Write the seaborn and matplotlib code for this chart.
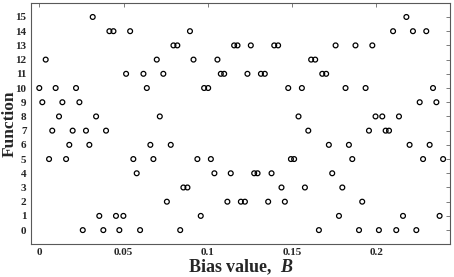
import matplotlib
matplotlib.use("Agg")
import matplotlib.pyplot as plt
import pandas as pd
import seaborn as sns

# Bias values at which each function index appears
f15 = [0.0317, 0.2178]
f14 = [0.0416, 0.0440, 0.0539, 0.0894, 0.2099, 0.2217, 0.2296]
f13 = [0.0796, 0.0819, 0.1156, 0.1176, 0.1255, 0.1394, 0.1417, 0.1758, 0.1876, 0.1976]
f12 = [0.0038, 0.0697, 0.0915, 0.1057, 0.1613, 0.1637]
f11 = [0.0515, 0.0618, 0.0736, 0.1077, 0.1097, 0.1235, 0.1315, 0.1338, 0.1679, 0.1702]
f10 = [0.0, 0.0097, 0.0218, 0.0638, 0.0978, 0.1002, 0.1477, 0.1558, 0.1817, 0.1936, 0.2336]
f9 = [0.0018, 0.0137, 0.0238, 0.2257, 0.2356]
f8 = [0.0117, 0.0337, 0.0715, 0.1538, 0.1995, 0.2035, 0.2134]
f7 = [0.0077, 0.0198, 0.0277, 0.0396, 0.1596, 0.1956, 0.2055, 0.2075]
f6 = [0.0178, 0.0297, 0.0659, 0.0780, 0.1718, 0.1837, 0.2197, 0.2316]
f5 = [0.0058, 0.0159, 0.0558, 0.0677, 0.0938, 0.1018, 0.1493, 0.1512, 0.1857, 0.2277, 0.2396]
f4 = [0.0578, 0.1039, 0.1136, 0.1275, 0.1295, 0.1378, 0.1738]
f3 = [0.0855, 0.0879, 0.1437, 0.1576, 0.1798]
f2 = [0.0757, 0.1116, 0.1196, 0.1220, 0.1358, 0.1457, 0.1916]
f1 = [0.0356, 0.0455, 0.0499, 0.0958, 0.1778, 0.2158, 0.2375]
f0 = [0.0258, 0.0380, 0.0475, 0.0598, 0.0836, 0.1659, 0.1897, 0.2015, 0.2118, 0.2237]

rows = [f0, f1, f2, f3, f4, f5, f6, f7, f8, f9, f10, f11, f12, f13, f14, f15]

x_ticks = [0, 0.05, 0.1, 0.15, 0.2]
x_tick_labels = ["0", "0.05", "0.1", "0.15", "0.2"]
y_ticks = list(range(16))

# long-format table: one row per point
records = []
for func, biases in enumerate(rows):
    for b in biases:
        records.append({"bias": b, "function": func})
df = pd.DataFrame(records)

sns.set_theme(style="white")
plt.rcParams["font.family"] = ["Liberation Serif", "DejaVu Serif"]
plt.rcParams["font.weight"] = "bold"
plt.rcParams["mathtext.fontset"] = "custom"
plt.rcParams["mathtext.rm"] = "Liberation Serif:bold"
plt.rcParams["mathtext.it"] = "Liberation Serif:italic:bold"
plt.rcParams["mathtext.bf"] = "Liberation Serif:bold"

fig = plt.figure(figsize=(4.54, 2.77), dpi=100)
ax = fig.add_axes([0.0676, 0.118, 0.9244, 0.872])

sns.scatterplot(data=df, x="bias", y="function", ax=ax,
                marker="o", s=12, facecolor="none", edgecolor="black",
                linewidth=0.9, legend=False)

ax.set_xlim(-0.0051, 0.2439)
ax.set_ylim(-1, 16)
ax.set_xticks(x_ticks)
ax.set_xticklabels(x_tick_labels)
ax.set_yticks(y_ticks)
ax.set_yticklabels([str(t) for t in y_ticks])

ax.tick_params(direction="in", length=3, width=0.6, color="0.4",
               top=True, right=True, labelsize=8, pad=3)
for lab in ax.get_xticklabels() + ax.get_yticklabels():
    lab.set_fontweight("bold")
for sp in ax.spines.values():
    sp.set_color("0.35")
    sp.set_linewidth(0.8)

ax.set_xlabel(r"Bias value,  $\mathit{B}$", fontsize=13, fontweight="bold",
              labelpad=0)
ax.set_ylabel("Function", fontsize=12.5, fontweight="bold")
ax.yaxis.set_label_coords(-0.03, 0.5)

fig.savefig("out.png", dpi=100)
